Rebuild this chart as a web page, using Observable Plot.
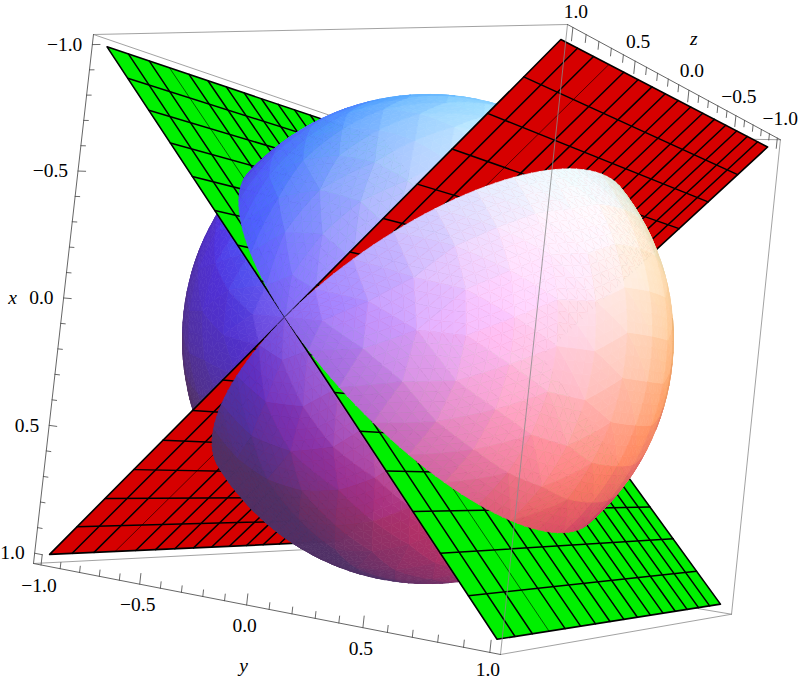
<!DOCTYPE html>
<html>
<head>
<meta charset="utf-8">
<style>html,body{margin:0;padding:0;background:#fff}</style>
<script src="https://cdn.jsdelivr.net/npm/d3@7"></script>
<script src="https://cdn.jsdelivr.net/npm/@observablehq/plot@0.6"></script>
</head>
<body>
<div id="chart"></div>
<script>
// axis ticks
const majorTicks = [-1, -0.5, 0, 0.5, 1];
const minorTicks = [-0.9,-0.8,-0.7,-0.6,-0.4,-0.3,-0.2,-0.1,0.1,0.2,0.3,0.4,0.6,0.7,0.8,0.9];
const majorLabels = ["\u22121.0", "\u22120.5", "0.0", "0.5", "1.0"];
// mesh values on the two planes x = y and x = -y
const meshZ = [0.875,0.75,0.5,0.375,0.25,0.125,0,-0.125,-0.25,-0.375,-0.5,-0.625,-0.75,-0.875];
const meshZThin = [0.625];
const meshX = [0.125,0.25,0.375,0.5,0.625,0.75,0.875];
// facet rows of the unit ball: polar angle (degrees) and cells per 90-degree wedge
const polarDeg =   [0,9,19,29,39,49,59,69,79,90,101,111,121,131,141,151,161,171,180];
const rowCells =   [1,2,3, 4, 6, 7, 8, 8, 9, 9, 9,  8,  8,  7,  6,  4,  3,  2,  1];
// wedges: start azimuth, drawn back to front
const wedgeLeft = 225, wedgeTop = 135, wedgeBottom = -45, wedgeFront = 45;
// plot-range padding of the box
const R = 1.04;
// Camera: homogeneous projection of the box coordinates
const camX = [-32.875, 209.355, -214.65, 492.6];
const camY = [286.193, -7.5415, -73.76, 389.51];
const camW = [-0.00428, -0.08685, -0.15, 1.15];
const camRight = [-0.107, 0.849, -0.518];
const camUp = [-0.994, -0.0755, 0.0795];
const camBack = [0.0284, 0.5235, 0.852];
// lights (ambient + three coloured directional lights, in the camera frame)
const ambient = [0.312, 0.188, 0.4];
const lights = [[1,0,1],[1,1,1],[0,1,1]];
const lightPower = 0.8;
const facetWeight = 0.55;

const red = "#d60000", green = "#00f000";

function proj(x, y, z) {
  const u = x/R, v = y/R, t = z/R;
  const d = (c) => c[0]*u + c[1]*v + c[2]*t + c[3];
  const w = d(camW);
  return [d(camX)/w, d(camY)/w];
}
const dot = (a,b) => a[0]*b[0]+a[1]*b[1]+a[2]*b[2];
const unit = (a) => { const n = Math.hypot(...a); return a.map(c=>c/n); };
const mid = (a,b) => unit([a[0]+b[0],a[1]+b[1],a[2]+b[2]]);
const centroid = (tri) => unit([0,1,2].map(k=>tri[0][k]+tri[1][k]+tri[2][k]));

function shade(n) {
  const c = [dot(n,camRight), dot(n,camUp), dot(n,camBack)];
  const rgb = ambient.slice();
  lights.forEach((L,i) => { rgb[i] += lightPower*Math.max(0, dot(c,unit(L))); });
  return rgb.map(v=>Math.min(1,v));
}
function split(tri, depth) {
  if (depth===0) return [tri];
  const [a,b,c]=tri, ab=mid(a,b), bc=mid(b,c), ca=mid(c,a);
  return [[a,ab,ca],[ab,b,bc],[ca,bc,c],[ab,bc,ca]].flatMap(t=>split(t,depth-1));
}

function wedgeFacets(start) {
  const rows = [];
  let id = 0;
  const vert = (pi,f) => {
    const p = polarDeg[pi]*Math.PI/180, a = (start+90*f)*Math.PI/180;
    return [Math.sin(p)*Math.cos(a), Math.sin(p)*Math.sin(a), Math.cos(p)];
  };
  const addBig = (tri) => {
    const coarse = shade(centroid(tri));
    for (const t of split(tri,2)) {
      const cen = centroid(t);
      const P = t.map(v=>proj(...v));
      const area = (P[1][0]-P[0][0])*(P[2][1]-P[0][1])-(P[2][0]-P[0][0])*(P[1][1]-P[0][1]);
      if (Math.abs(area) < 0.01) continue;
      const e1=[0,1,2].map(k=>t[1][k]-t[0][k]), e2=[0,1,2].map(k=>t[2][k]-t[0][k]);
      const nrm=[e1[1]*e2[2]-e1[2]*e2[1],e1[2]*e2[0]-e1[0]*e2[2],e1[0]*e2[1]-e1[1]*e2[0]];
      const orient = dot(nrm,cen)>0 ? 1 : -1;
      if (area*orient >= 0) continue;
      const fine = shade(cen);
      const mix = fine.map((v,k)=>(v*(1-facetWeight)+coarse[k]*facetWeight)*255);
      const col = d3.rgb(mix[0],mix[1],mix[2]).formatHex();
      id++;
      [...P,P[0]].forEach(q=>rows.push({id,x:q[0],y:q[1],col}));
    }
  };
  for (let i=0;i<polarDeg.length-1;i++) {
    const n0=rowCells[i], n1=rowCells[i+1];
    let a=0,b=0;
    while (a<n0 || b<n1) {
      const fa=(a+1)/n0, fb=(b+1)/n1;
      if (b>=n1 || (a<n0 && fa<=fb)) {
        addBig([vert(i,a/n0),vert(i+1,b/n1),vert(i,fa)]); a++;
      } else {
        addBig([vert(i,a/n0),vert(i+1,b/n1),vert(i+1,fb)]); b++;
      }
    }
  }
  return rows;
}
function wedgeMark(start) {
  return Plot.line(wedgeFacets(start), {x:"x",y:"y",z:"id",fill:"col",stroke:"col",strokeWidth:0.7,curve:"linear"});
}

// half plane: sx = sign of x, sy = sign of y (|x| = |y| from 0 to 1), z from -1 to 1
function halfPlane(sx, sy, color) {
  const pt = (m,z)=>proj(sx*m, sy*m, z);
  const lines = (rowsIn, width) => {
    const rows = [];
    rowsIn.forEach((seg,i)=>seg.forEach(q=>rows.push({k:i,x:q[0],y:q[1]})));
    return Plot.line(rows,{x:"x",y:"y",z:"k",stroke:"#000",strokeWidth:width,curve:"linear"});
  };
  const poly = [pt(0,1),pt(1,1),pt(1,-1),pt(0,-1)].map(q=>({x:q[0],y:q[1]}));
  return [
    Plot.line(poly,{x:"x",y:"y",fill:color,stroke:"none",curve:"linear"}),
    lines(meshZThin.map(z=>[pt(0,z),pt(1,z)]),0.6),
    lines(meshZ.map(z=>[pt(0,z),pt(1,z)]),1.5),
    lines(meshX.map(m=>[pt(m,1),pt(m,-1)]),1.5),
    lines([[pt(0,1),pt(1,1),pt(1,-1),pt(0,-1)]],1.6)
  ];
}

function segMark(list, stroke, width) {
  const rows=[];
  list.forEach((s,i)=>{ const p=proj(...s[0]), q=proj(...s[1]);
    rows.push({k:i,x:p[0],y:p[1]},{k:i,x:q[0],y:q[1]}); });
  return Plot.line(rows,{x:"x",y:"y",z:"k",stroke,strokeWidth:width,curve:"linear"});
}

const backEdges = [
  [[-R,-R,R],[-R,-R,-R]], [[R,-R,R],[R,-R,-R]], [[R,R,R],[R,R,-R]],
  [[-R,R,-R],[R,R,-R]], [[R,-R,-R],[R,R,-R]], [[-R,-R,-R],[-R,R,-R]], [[-R,-R,-R],[R,-R,-R]]
];
const frontGray = [ [[-R,-R,R],[-R,R,R]], [[-R,R,R],[R,R,R]] ];
const frontDark = [ [[-R,-R,R],[R,-R,R]], [[R,-R,R],[R,R,R]], [[-R,R,R],[-R,R,-R]] ];

const tx = (v,l)=>[[v,-R,R],[v,-R+l,R]];
const ty = (v,l)=>[[R,v,R],[R-l,v,R]];
const tz = (v,l)=>[[-R,R,v],[-R+l,R,v]];
const ticks = [
  ...majorTicks.flatMap(v=>[tx(v,0.04),ty(v,0.04),tz(v,0.045)]),
  ...minorTicks.flatMap(v=>[tx(v,0.024),ty(v,0.024),tz(v,0.027)])
];

// labels stay inside the picture
const labelRows = (fn,dy)=>majorTicks.map((v,i)=>{ const p=fn(v);
  return {x:p[0],y:Math.min(669,Math.max(11,p[1]+dy)),t:majorLabels[i]}; });
const font = {fontFamily:"Liberation Serif",fontSize:19.5,fill:"#000",stroke:"none"};
const titleRow = (p,t)=>[{x:p[0],y:p[1],t}];

const marks = [
  segMark(backEdges,"#8a8a8a",0.8),
  wedgeMark(wedgeLeft),
  ...halfPlane(-1,-1,green),
  ...halfPlane(1,-1,red),
  wedgeMark(wedgeTop),
  wedgeMark(wedgeBottom),
  ...halfPlane(-1,1,red),
  ...halfPlane(1,1,green),
  wedgeMark(wedgeFront),
  segMark(frontGray,"#8a8a8a",0.8),
  segMark(frontDark,"#555",0.9),
  segMark(ticks,"#444",0.8),
  Plot.text(labelRows(v=>proj(v,-R,R),0),{x:"x",y:"y",text:"t",textAnchor:"end",dx:-10,...font}),
  Plot.text(labelRows(v=>proj(R,v,R),21),{x:"x",y:"y",text:"t",textAnchor:"middle",dx:-2,...font}),
  Plot.text(labelRows(v=>proj(-R,R,v),-19),{x:"x",y:"y",text:"t",textAnchor:"middle",dx:3,...font}),
  Plot.text(titleRow(proj(0,-R,R),"x"),{x:"x",y:"y",text:"t",dx:-51,fontStyle:"italic",...font}),
  Plot.text(titleRow(proj(R,0,R),"y"),{x:"x",y:"y",text:"t",dy:61,dx:-3,fontStyle:"italic",...font}),
  Plot.text(titleRow(proj(-R,R,0),"z"),{x:"x",y:"y",text:"t",dy:-51,dx:5,fontStyle:"italic",...font})
];

const chart = Plot.plot({
  width:800,height:680,margin:0,
  style:{background:"#fff",display:"block"},
  x:{domain:[0,800],range:[0,800],axis:null},
  y:{domain:[0,680],range:[0,680],axis:null},
  color:{type:"identity"},
  marks
});
document.getElementById("chart").appendChild(chart);
</script>
</body>
</html>
